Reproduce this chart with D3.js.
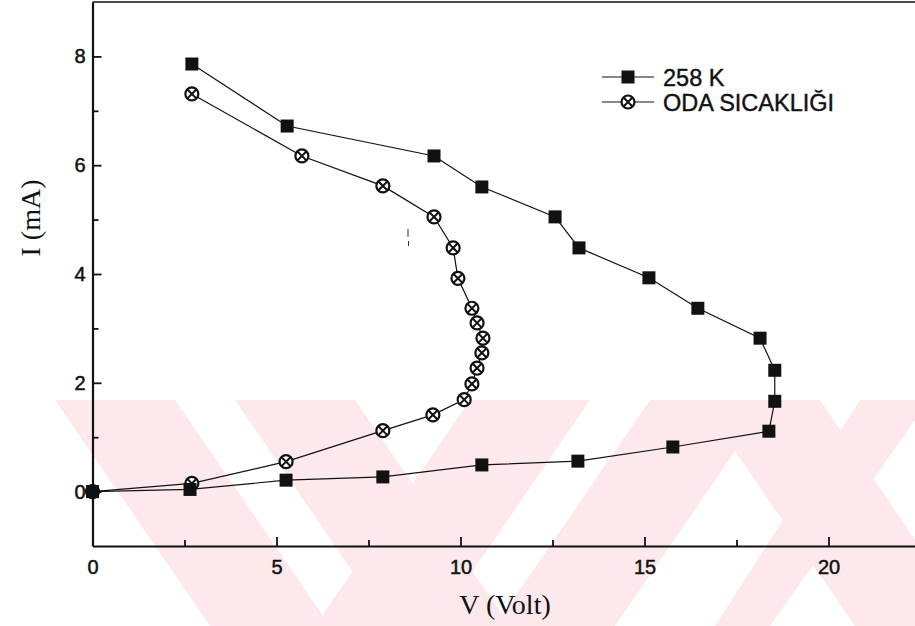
<!DOCTYPE html>
<html>
<head>
<meta charset="utf-8">
<script src="https://cdn.jsdelivr.net/npm/d3@7"></script>
<style>
  html, body { margin: 0; padding: 0; background: #fff; }
  svg { display: block; }
  .tick text { font-family: "Liberation Sans", Arial, sans-serif; font-size: 20px; fill: #111; stroke: #111; stroke-width: 0.5px; }
  .axis-title { font-family: "Liberation Serif", "Times New Roman", serif; font-size: 28px; fill: #111; }
  .legend text { font-family: "Liberation Sans", Arial, sans-serif; font-size: 23.5px; fill: #111; stroke: #111; stroke-width: 0.4px; }
</style>
</head>
<body>
<div id="chart"></div>
<script>
// 258 K series
var v258 = [0, 2.65, 5.26, 7.89, 10.58, 13.19, 15.77, 18.38, 18.54, 18.54, 18.14, 16.45, 15.12, 13.22, 12.57, 10.58, 9.28, 5.29, 2.70];
var i258 = [0, 0.04, 0.21, 0.27, 0.49, 0.56, 0.82, 1.11, 1.66, 2.23, 2.82, 3.37, 3.93, 4.48, 5.05, 5.60, 6.17, 6.72, 7.86];
// room temperature series
var vOda = [0, 2.70, 5.26, 7.89, 9.25, 10.10, 10.31, 10.45, 10.58, 10.61, 10.45, 10.31, 9.93, 9.80, 9.28, 7.89, 5.69, 2.70];
var iOda = [0, 0.15, 0.55, 1.12, 1.41, 1.69, 1.98, 2.27, 2.55, 2.82, 3.10, 3.37, 3.92, 4.48, 5.05, 5.62, 6.17, 7.31];

var xTicks = [0, 5, 10, 15, 20],
    xMinor = [2.5, 7.5, 12.5, 17.5],
    yTicks = [0, 2, 4, 6, 8],
    yMinor = [1, 3, 5, 7];

var seriesNames = ['258 K', 'ODA SICAKLIĞI'];

const W = 915, H = 626;

var svg = d3.select('#chart').append('svg')
    .attr('width', W)
    .attr('height', H);

// faint pink watermark in the scan
var wm = svg.append('g').attr('fill', '#fde8ec');
[
  [[55, 400], [175, 400], [330, 626], [210, 626]],
  [[235, 400], [355, 400], [510, 626], [390, 626]],
  [[470, 400], [590, 400], [435, 626], [315, 626]],
  [[650, 400], [770, 400], [615, 626], [495, 626]],
  [[700, 400], [820, 400], [915, 540], [915, 626], [855, 626]],
  [[860, 400], [915, 400], [915, 420], [770, 626], [715, 626]]
].forEach(function (p) {
  wm.append('polygon').attr('points', p.map(q => q.join(',')).join(' '));
});

var x = d3.scaleLinear().domain([0, 22.5]).range([92.5, 920.5]);
var y = d3.scaleLinear().domain([-1, 9]).range([546, 2]);

// frame top
svg.append('line')
    .attr('x1', x(0)).attr('x2', W)
    .attr('y1', y(9)).attr('y2', y(9))
    .attr('stroke', '#111').attr('stroke-width', 1.6);

svg.append('g')
    .attr('transform', 'translate(0,' + y(-1) + ')')
    .call(d3.axisBottom(x).tickValues(xTicks).tickFormat(d3.format('d'))
        .tickSizeInner(-9).tickSizeOuter(0).tickPadding(14));
svg.append('g')
    .attr('transform', 'translate(0,' + y(-1) + ')')
    .call(d3.axisBottom(x).tickValues(xMinor).tickFormat('')
        .tickSizeInner(-6).tickSizeOuter(0))
    .select('.domain').remove();

svg.append('g')
    .attr('transform', 'translate(' + x(0) + ',0)')
    .call(d3.axisLeft(y).tickValues(yTicks).tickFormat(d3.format('d'))
        .tickSizeInner(-9).tickSizeOuter(0).tickPadding(7));
svg.append('g')
    .attr('transform', 'translate(' + x(0) + ',0)')
    .call(d3.axisLeft(y).tickValues(yMinor).tickFormat('')
        .tickSizeInner(-6).tickSizeOuter(0))
    .select('.domain').remove();

svg.selectAll('.domain').attr('stroke', '#111').attr('stroke-width', 2.2);
svg.selectAll('.tick line').attr('stroke', '#111').attr('stroke-width', 1.8);

svg.append('text')
    .attr('class', 'axis-title')
    .attr('x', 505).attr('y', 614)
    .attr('text-anchor', 'middle')
    .text('V (Volt)');
svg.append('text')
    .attr('class', 'axis-title')
    .attr('transform', 'translate(40,218) rotate(-90)')
    .attr('text-anchor', 'middle')
    .text('I (mA)');

// small scan speck inside the plot
svg.append('path')
    .attr('d', 'M408,229V237M408.5,241V246')
    .attr('stroke', '#333').attr('stroke-width', 1);

var line = d3.line().x(d => x(d[0])).y(d => y(d[1]));

var d258 = v258.map((v, i) => [v, i258[i]]);
var dOda = vOda.map((v, i) => [v, iOda[i]]);

var plot = svg.append('g');

plot.append('path').datum(dOda)
    .attr('d', line).attr('fill', 'none')
    .attr('stroke', '#111').attr('stroke-width', 1.2);
plot.append('path').datum(d258)
    .attr('d', line).attr('fill', 'none')
    .attr('stroke', '#111').attr('stroke-width', 1.2);

const Sq = 13, R = 6.5;

function crossCircle(g) {
    g.append('circle').attr('r', R)
        .attr('fill', '#fff').attr('stroke', '#111').attr('stroke-width', 2.2);
    var k = R * 0.68;
    g.append('path')
        .attr('d', `M${-k},${-k}L${k},${k}M${-k},${k}L${k},${-k}`)
        .attr('stroke', '#111').attr('stroke-width', 2);
}

function square(g) {
    g.append('rect')
        .attr('x', -Sq / 2).attr('y', -Sq / 2)
        .attr('width', Sq).attr('height', Sq)
        .attr('fill', '#111');
}

plot.selectAll('.m-oda').data(dOda).enter().append('g')
    .attr('class', 'm-oda')
    .attr('transform', d => `translate(${x(d[0])},${y(d[1])})`)
    .each(function () { crossCircle(d3.select(this)); });

plot.selectAll('.m-258').data(d258).enter().append('g')
    .attr('class', 'm-258')
    .attr('transform', d => `translate(${x(d[0])},${y(d[1])})`)
    .each(function () { square(d3.select(this)); });

// legend
var legend = svg.append('g').attr('class', 'legend');
seriesNames.forEach(function (name, i) {
    var ly = 77 + i * 25;
    var g = legend.append('g').attr('transform', 'translate(602,' + ly + ')');
    g.append('line').attr('x1', 0).attr('x2', 52)
        .attr('stroke', '#111').attr('stroke-width', 1.2);
    var m = g.append('g').attr('transform', 'translate(26,0)');
    if (i === 0) square(m); else crossCircle(m);
    g.append('text').attr('x', 61).attr('y', 8.5).text(name);
});
</script>
</body>
</html>
